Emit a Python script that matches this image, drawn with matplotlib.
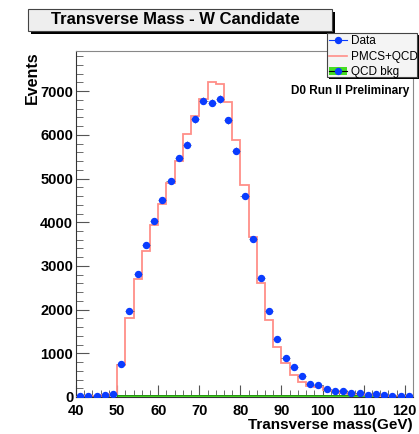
import numpy as np
import matplotlib.pyplot as plt
from matplotlib.lines import Line2D
from matplotlib.patches import Rectangle, Patch
from matplotlib.ticker import MultipleLocator

plt.rcParams['font.family'] = ['Liberation Sans', 'DejaVu Sans']
plt.rcParams['font.weight'] = 'bold'

# bin edges 40..122 GeV, 2 GeV bins
edges = np.arange(40, 124, 2)
centers = edges[:-1] + 1

data_counts = [25, 15, 30, 55, 78, 748, 1968, 2808, 3487, 4037, 4517, 4936, 5469, 5776,
               6362, 6782, 6737, 6819, 6339, 5638, 4608, 3609, 2724, 1977, 1327, 886,
               687, 481, 291, 268, 192, 146, 130, 101, 85, 55, 62, 48, 33, 33, 25]
pmcs_qcd = [10, 15, 25, 40, 60, 725, 1817, 2700, 3341, 3929, 4410, 4906, 5410, 6011,
            6423, 6828, 7201, 7171, 6751, 5890, 4860, 3661, 2618, 1755, 1153, 787,
            513, 343, 260, 220, 170, 130, 100, 80, 65, 50, 40, 32, 25, 20, 15]
qcd_bkg = [0, 0, 0, 0, 0, 40, 40, 40, 40, 40, 40, 40, 40, 40, 40, 40, 40, 40, 40, 40, 40,
           40, 40, 40, 40, 40, 40, 40, 40, 40, 40, 40, 40, 40, 40, 40, 40, 40, 40, 40, 40]

blue = '#0a3cff'
red = '#ff8f88'
green = '#44dd22'

fig = plt.figure(figsize=(4.19, 4.34), dpi=100)
ax = fig.add_axes([76/419, 1-397/434, (413-76)/419, (397-51)/434])

ax.stairs(qcd_bkg, edges, fill=True, color=green, zorder=2)
ax.stairs(qcd_bkg, edges, color='#228811', lw=0.6, zorder=2)
ax.stairs(pmcs_qcd, edges, color=red, lw=1.3, zorder=3)
ax.errorbar(centers, data_counts, xerr=1, yerr=np.sqrt(data_counts), fmt='o',
            color=blue, ms=4.3, ecolor='#555555', elinewidth=0.5, capsize=0, zorder=4)

ax.set_xlim(40, 122)
ax.set_ylim(0, 7920)
ax.xaxis.set_major_locator(MultipleLocator(10))
ax.xaxis.set_minor_locator(MultipleLocator(2))
ax.yaxis.set_major_locator(MultipleLocator(1000))
ax.yaxis.set_minor_locator(MultipleLocator(200))
ax.tick_params(which='both', direction='in', colors='#555555', labelcolor='black',
               labelsize=10.5, pad=2)
ax.tick_params(which='major', length=9)
ax.tick_params(which='minor', length=5)
ax.tick_params(axis='x', pad=5)
for s in ['top', 'right']:
    ax.spines[s].set_color('#888888')
for s in ['left', 'bottom']:
    ax.spines[s].set_color('#333333')

ax.set_ylabel('Events', fontsize=11.5, fontweight='bold')
ax.yaxis.set_label_coords(-0.108, 1.0)
ax.yaxis.label.set_horizontalalignment('right')
ax.set_xlabel('Transverse mass(GeV)', fontsize=11, fontweight='bold')
ax.xaxis.set_label_coords(1.0, -0.06)
ax.xaxis.label.set_horizontalalignment('right')

ax.text(0.99, 0.885, 'D0 Run II Preliminary', transform=ax.transAxes, ha='right',
        va='center', fontsize=8.5, fontweight='bold')

# title box with ROOT-style shadow
fig.patches.append(Rectangle((31/419, 1-34/434), 304/419, 22/434, transform=fig.transFigure,
                             facecolor='black', edgecolor='none'))
fig.patches.append(Rectangle((28/419, 1-31/434), 304/419, 22/434, transform=fig.transFigure,
                             facecolor='#eeeeee', edgecolor='#444444', lw=0.8))
fig.text(175/419, 1-20/434, 'Transverse Mass - W Candidate', ha='center', va='center',
         fontsize=12, fontweight='bold')

# legend box
fig.patches.append(Rectangle((329/419, 1-79/434), 90/419, 44/434, transform=fig.transFigure,
                             facecolor='black', edgecolor='none'))
fig.patches.append(Rectangle((327/419, 1-77/434), 90/419, 44/434, transform=fig.transFigure,
                             facecolor='#f4f4f4', edgecolor='#444444', lw=0.8))
h_data = Line2D([], [], color=blue, marker='o', ms=4.3, lw=0.8)
h_pmcs = Line2D([], [], color=red, lw=1.2)
h_qcd = (Patch(facecolor=green, edgecolor='none'), Line2D([], [], color='black', marker='o',
                                                          mfc=blue, mec=blue, ms=4.3, lw=0.8))
fig.legend([h_data, h_pmcs, h_qcd], ['Data', 'PMCS+QCD', 'QCD bkg'],
           loc='upper left', bbox_to_anchor=(327/419, 1-33/434), frameon=False,
           prop={'size': 8.5, 'weight': 'normal'}, handlelength=1.5, handletextpad=0.3,
           labelspacing=0.28, borderpad=0.2, borderaxespad=0)

fig.savefig('out.png', dpi=100)
